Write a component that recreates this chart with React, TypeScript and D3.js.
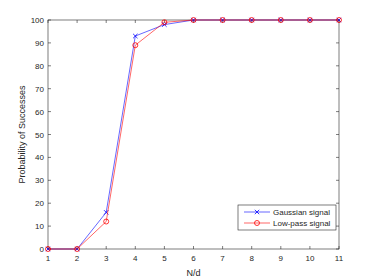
import React, { useEffect, useRef } from "react";
import * as d3 from "d3";

const ratios = [1, 2, 3, 4, 5, 6, 7, 8, 9, 10, 11];
const gaussian = [0, 0, 16, 93, 98, 100, 100, 100, 100, 100, 100];
const lowpass = [0, 0, 12, 89, 99, 100, 100, 100, 100, 100, 100];
const yTicks = [0, 10, 20, 30, 40, 50, 60, 70, 80, 90, 100];
const seriesNames = ["Gaussian signal", "Low-pass signal"];

const App = () => {
  const ref = useRef<SVGSVGElement>(null);

  useEffect(() => {
    const svg = d3.select(ref.current);
    svg.selectAll("*").remove();

    const left = 48, right = 339, top = 20, bottom = 249;
    const font = "Liberation Sans, Arial, sans-serif";
    const ink = "#262626";

    const x = d3.scaleLinear().domain([1, 11]).range([left, right]);
    const y = d3.scaleLinear().domain([0, 100]).range([bottom, top]);

    svg.append("rect").attr("width", 374).attr("height", 280).attr("fill", "#fff");

    // box
    svg
      .append("rect")
      .attr("x", left)
      .attr("y", top)
      .attr("width", right - left)
      .attr("height", bottom - top)
      .attr("fill", "#fff")
      .attr("stroke", ink)
      .attr("stroke-width", 0.6);

    const tl = 3;
    const g = svg.append("g").attr("stroke", ink).attr("stroke-width", 0.6);
    ratios.forEach((v) => {
      g.append("line").attr("x1", x(v)).attr("x2", x(v)).attr("y1", bottom).attr("y2", bottom - tl);
      g.append("line").attr("x1", x(v)).attr("x2", x(v)).attr("y1", top).attr("y2", top + tl);
    });
    yTicks.forEach((v) => {
      g.append("line").attr("x1", left).attr("x2", left + tl).attr("y1", y(v)).attr("y2", y(v));
      g.append("line").attr("x1", right).attr("x2", right - tl).attr("y1", y(v)).attr("y2", y(v));
    });

    svg
      .append("g")
      .selectAll("text")
      .data(ratios)
      .enter()
      .append("text")
      .attr("x", (d) => x(d))
      .attr("y", bottom + 12)
      .attr("text-anchor", "middle")
      .attr("font-family", font)
      .attr("font-size", 8)
      .attr("fill", ink)
      .text((d) => d);

    svg
      .append("g")
      .selectAll("text")
      .data(yTicks)
      .enter()
      .append("text")
      .attr("x", left - 4)
      .attr("y", (d) => y(d) + 3)
      .attr("text-anchor", "end")
      .attr("font-family", font)
      .attr("font-size", 8)
      .attr("fill", ink)
      .text((d) => d);

    svg
      .append("text")
      .attr("x", (left + right) / 2)
      .attr("y", 276)
      .attr("text-anchor", "middle")
      .attr("font-family", font)
      .attr("font-size", 9)
      .attr("fill", ink)
      .text("N/d");

    svg
      .append("text")
      .attr("transform", `translate(25,${(top + bottom) / 2}) rotate(-90)`)
      .attr("text-anchor", "middle")
      .attr("font-family", font)
      .attr("font-size", 9)
      .attr("fill", ink)
      .text("Probability of Successes");

    const line = d3
      .line<number>()
      .x((_, i) => x(ratios[i]))
      .y((d) => y(d));

    const drawX = (grp, cx, cy, s, color) => {
      grp.append("path")
        .attr("d", `M${cx - s},${cy - s}L${cx + s},${cy + s}M${cx - s},${cy + s}L${cx + s},${cy - s}`)
        .attr("stroke", color)
        .attr("stroke-width", 0.8);
    };
    const drawO = (grp, cx, cy, r, color) => {
      grp.append("circle")
        .attr("cx", cx)
        .attr("cy", cy)
        .attr("r", r)
        .attr("fill", "none")
        .attr("stroke", color)
        .attr("stroke-width", 0.8);
    };

    const blue = "#0000ff";
    const red = "#ff0000";

    const gb = svg.append("g");
    gb.append("path").attr("d", line(gaussian)).attr("fill", "none").attr("stroke", blue).attr("stroke-width", 0.6);
    gaussian.forEach((v, i) => drawX(gb, x(ratios[i]), y(v), 2.2, blue));

    const gr = svg.append("g");
    gr.append("path").attr("d", line(lowpass)).attr("fill", "none").attr("stroke", red).attr("stroke-width", 0.6);
    lowpass.forEach((v, i) => drawO(gr, x(ratios[i]), y(v), 2.5, red));

    // legend
    const lx = 238, ly = 205, lw = 98, lh = 25;
    svg
      .append("rect")
      .attr("x", lx)
      .attr("y", ly)
      .attr("width", lw)
      .attr("height", lh)
      .attr("fill", "#fff")
      .attr("stroke", ink)
      .attr("stroke-width", 0.6);
    const colors = [blue, red];
    seriesNames.forEach((name, i) => {
      const cy = ly + 7 + i * 11;
      svg.append("line")
        .attr("x1", lx + 6)
        .attr("x2", lx + 32)
        .attr("y1", cy)
        .attr("y2", cy)
        .attr("stroke", colors[i])
        .attr("stroke-width", 0.6);
      if (i === 0) drawX(svg, lx + 19, cy, 2.2, blue);
      else drawO(svg, lx + 19, cy, 2.5, red);
      svg.append("text")
        .attr("x", lx + 35)
        .attr("y", cy + 3)
        .attr("font-family", font)
        .attr("font-size", 8)
        .attr("fill", ink)
        .text(name);
    });
  }, []);

  return (
    <svg
      ref={ref}
      width={374}
      height={280}
      style={{ position: "absolute", left: 0, top: 0 }}
    />
  );
};

export default App;
